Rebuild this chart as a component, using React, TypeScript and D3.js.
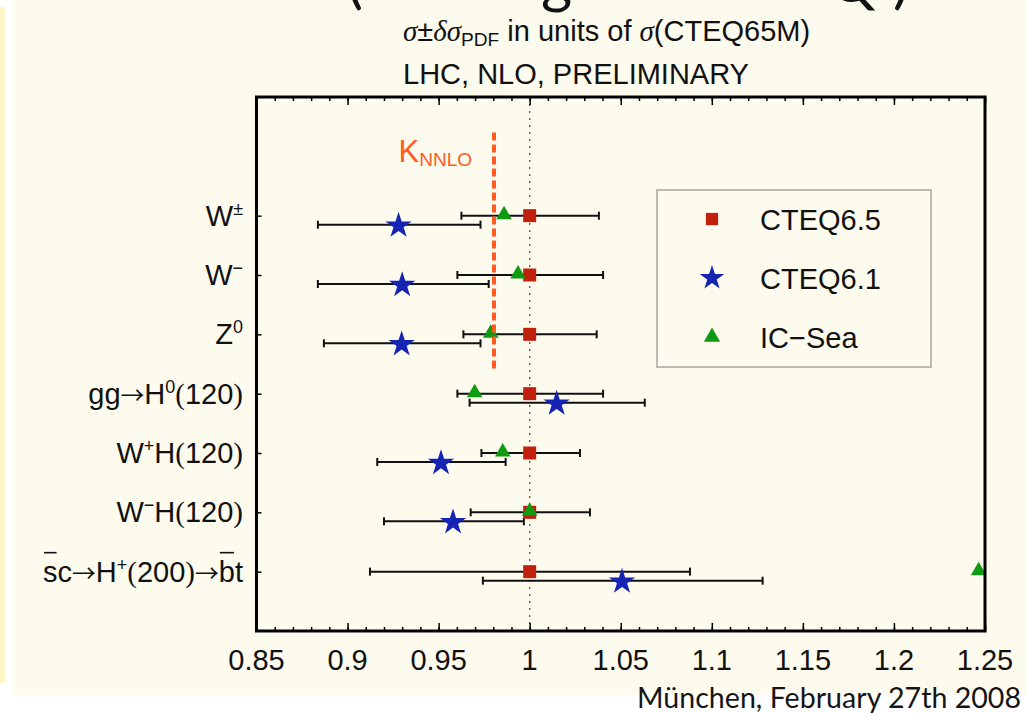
import React, { useEffect, useRef } from "react";
import * as d3 from "d3";

type Seg = { t: string; sup?: boolean; sub?: boolean; serif?: boolean; italic?: boolean; over?: boolean; arrow?: boolean };

// ---- data ----
const categories = ["W±", "W−", "Z0", "gg→H0(120)", "W+H(120)", "W−H(120)", "sc→H+(200)→bt"];
const categoryLabels: Seg[][] = [
  [{ t: "W" }, { t: "±", sup: true }],
  [{ t: "W" }, { t: "−", sup: true }],
  [{ t: "Z" }, { t: "0", sup: true }],
  [{ t: "gg" }, { t: "→", arrow: true }, { t: "H" }, { t: "0", sup: true }, { t: "(", serif: true }, { t: "120" }, { t: ")", serif: true }],
  [{ t: "W" }, { t: "+", sup: true }, { t: "H" }, { t: "(", serif: true }, { t: "120" }, { t: ")", serif: true }],
  [{ t: "W" }, { t: "−", sup: true }, { t: "H" }, { t: "(", serif: true }, { t: "120" }, { t: ")", serif: true }],
  [{ t: "s", over: true }, { t: "c" }, { t: "→", arrow: true }, { t: "H" }, { t: "+", sup: true }, { t: "(", serif: true }, { t: "200" }, { t: ")", serif: true }, { t: "→", arrow: true }, { t: "b", over: true }, { t: "t" }],
];

const cteq65 = [1, 1, 1, 1, 1, 1, 1];
const cteq65Lo = [0.9625, 0.9603, 0.9636, 0.9603, 0.9735, 0.9676, 0.9123];
const cteq65Hi = [1.038, 1.0403, 1.0368, 1.0403, 1.0276, 1.0331, 1.088];

const cteq61 = [0.928, 0.93, 0.9297, 1.0148, 0.9513, 0.9579, 1.0507];
const cteq61Lo = [0.8837, 0.8837, 0.887, 0.967, 0.9163, 0.92, 0.9743];
const cteq61Hi = [0.973, 0.9775, 0.973, 1.0632, 0.9868, 0.9968, 1.1279];

const icSea = [0.9859, 0.9936, 0.9786, 0.9698, 0.9852, 1.0, 1.2465];

const kNNLO = 0.9804;
const kNNLORows = [-1.4, 2.6];

const xTicks = [0.85, 0.9, 0.95, 1, 1.05, 1.1, 1.15, 1.2, 1.25];
const xTickLabels = ["0.85", "0.9", "0.95", "1", "1.05", "1.1", "1.15", "1.2", "1.25"];
const xMinorTicks = d3.range(85, 126).map((v) => v / 100);

const seriesNames = ["CTEQ6.5", "CTEQ6.1", "IC−Sea"];

// ---- style ----
const BG = "#fdfaee";
const RED = "#c0200c";
const BLUE = "#1624b4";
const GREEN = "#0f9a12";
const ORANGE = "#ff5a1f";
const SANS = "'Liberation Sans', Arial, sans-serif";
const SERIF = "'Liberation Serif', 'Times New Roman', serif";
const ARROWFONT = "'Noto Sans CJK JP', 'Liberation Serif', serif";

function addSegs(text: any, segs: Seg[], size: number) {
  segs.forEach((s) => {
    const ts = text.append("tspan").text(s.t);
    if (s.serif) ts.attr("font-family", SERIF);
    if (s.arrow) ts.attr("font-family", ARROWFONT).attr("font-size", size * 0.82);
    if (s.italic) ts.attr("font-style", "italic");
    if (s.sup) ts.attr("font-size", size * 0.62).attr("baseline-shift", size * 0.38);
    if (s.sub) ts.attr("font-size", size * 0.66).attr("baseline-shift", -size * 0.18);
  });
}

export default function App() {
  const ref = useRef<SVGSVGElement>(null);

  useEffect(() => {
    const svg = d3.select(ref.current!);
    svg.selectAll("*").remove();

    // slide background
    svg.append("rect").attr("width", 1027).attr("height", 713).attr("fill", "#ffffff");
    svg.append("rect").attr("x", 13).attr("y", 0).attr("width", 1014).attr("height", 695).attr("fill", BG);
    svg.append("rect").attr("x", 0).attr("y", 7).attr("width", 5).attr("height", 676).attr("fill", "#fdf5c6");

    // clipped slide title (only the lower parts visible in the source)
    const topG = svg.append("g").attr("font-family", "Lato, sans-serif").attr("font-size", 60).attr("fill", "#111");
    [["(", 347], ["g", 541], ["Q", 828], [")", 893]].forEach(([c, x]) => {
      topG.append("text").attr("x", x as number).attr("y", 2).text(c as string);
    });

    // titles
    const t1 = svg.append("text").attr("x", 403).attr("y", 41).attr("font-family", SANS).attr("font-size", 29).attr("fill", "#111");
    addSegs(t1, [
      { t: "σ", serif: true, italic: true },
      { t: "±" },
      { t: "δσ", serif: true, italic: true },
      { t: "PDF", sub: true },
      { t: " in units of " },
      { t: "σ", serif: true, italic: true },
      { t: "(CTEQ65M)" },
    ], 29);
    svg.append("text").attr("x", 403).attr("y", 84).attr("font-family", SANS).attr("font-size", 29).attr("fill", "#111").text("LHC, NLO, PRELIMINARY");

    // scales
    const x = d3.scaleLinear().domain([0.85, 1.25]).range([256.5, 985]);
    const y = d3.scaleLinear().domain([-2, 7]).range([97, 631]);
    const rows = categories.map((_, i) => i);
    const starOff = 9;

    // dotted reference line at 1
    svg.append("line").attr("x1", x(1)).attr("x2", x(1)).attr("y1", y(-2)).attr("y2", y(7))
      .attr("stroke", "#555").attr("stroke-width", 1.3).attr("stroke-dasharray", "2,5");

    // axes ticks
    const tickStyle = (g: any) => {
      g.select(".domain").remove();
      g.selectAll("line").attr("stroke", "#000").attr("stroke-width", 1.5);
      g.selectAll("text").remove();
    };
    svg.append("g").attr("transform", `translate(0,${y(7)})`)
      .call(d3.axisBottom(x).tickValues(xMinorTicks).tickSize(-4)).call(tickStyle);
    svg.append("g").attr("transform", `translate(0,${y(7)})`)
      .call(d3.axisBottom(x).tickValues(xTicks).tickSize(-8)).call(tickStyle);
    svg.append("g").attr("transform", `translate(0,${y(-2)})`)
      .call(d3.axisTop(x).tickValues(xMinorTicks).tickSize(-4)).call(tickStyle);
    svg.append("g").attr("transform", `translate(0,${y(-2)})`)
      .call(d3.axisTop(x).tickValues(xTicks).tickSize(-8)).call(tickStyle);
    svg.append("g").attr("transform", `translate(${x(0.85)},0)`)
      .call(d3.axisLeft(y).tickValues(rows).tickSize(-5)).call(tickStyle);

    // x tick labels
    svg.append("g").selectAll("text").data(xTicks).join("text")
      .attr("x", (d) => x(d)).attr("y", 670).attr("text-anchor", "middle")
      .attr("font-family", SANS).attr("font-size", 29).attr("fill", "#111")
      .text((_, i) => xTickLabels[i]);

    // y labels
    const labG = svg.append("g").attr("font-family", SANS).attr("font-size", 29).attr("fill", "#111");
    categoryLabels.forEach((segs, i) => {
      const t = labG.append("text").attr("x", 243).attr("y", y(i) + 10).attr("text-anchor", "end");
      addSegs(t, segs, 29);
      let idx = 0;
      const node = t.node() as SVGTextElement;
      segs.forEach((s) => {
        if (s.over) {
          try {
            const b = node.getExtentOfChar(idx);
            labG.append("line").attr("x1", b.x + 1).attr("x2", b.x + b.width - 1)
              .attr("y1", y(i) - 19).attr("y2", y(i) - 19).attr("stroke", "#111").attr("stroke-width", 1.6);
          } catch (e) {}
        }
        idx += s.t.length;
      });
    });

    // error bars
    const eb = (lo: number[], hi: number[], off: number) => {
      const g = svg.append("g").attr("stroke", "#111").attr("stroke-width", 2);
      rows.forEach((i) => {
        const yy = y(i) + off;
        g.append("line").attr("x1", x(lo[i])).attr("x2", x(hi[i])).attr("y1", yy).attr("y2", yy);
        g.append("line").attr("x1", x(lo[i])).attr("x2", x(lo[i])).attr("y1", yy - 4).attr("y2", yy + 4);
        g.append("line").attr("x1", x(hi[i])).attr("x2", x(hi[i])).attr("y1", yy - 4).attr("y2", yy + 4);
      });
    };
    eb(cteq65Lo, cteq65Hi, 0);
    eb(cteq61Lo, cteq61Hi, starOff);

    const sq = d3.symbol().type(d3.symbolSquare).size(169);
    const star = d3.symbol().type(d3.symbolStar).size(215);
    const tri = d3.symbol().type(d3.symbolTriangle).size(105);

    svg.append("g").selectAll("path").data(rows).join("path")
      .attr("d", sq as any).attr("fill", RED)
      .attr("transform", (i) => `translate(${x(cteq65[i])},${y(i)})`);
    svg.append("g").selectAll("path").data(rows).join("path")
      .attr("d", star as any).attr("fill", BLUE)
      .attr("transform", (i) => `translate(${x(cteq61[i])},${y(i) + starOff + 1})`);
    svg.append("g").selectAll("path").data(rows).join("path")
      .attr("d", tri as any).attr("fill", GREEN)
      .attr("transform", (i) => `translate(${x(icSea[i])},${y(i) - 1})`);

    // K_NNLO line
    svg.append("line").attr("x1", x(kNNLO)).attr("x2", x(kNNLO))
      .attr("y1", y(kNNLORows[0])).attr("y2", y(kNNLORows[1]))
      .attr("stroke", ORANGE).attr("stroke-width", 4).attr("stroke-dasharray", "8,4");
    const kt = svg.append("text").attr("x", x(kNNLO) - 22).attr("y", y(-0.9)).attr("text-anchor", "end")
      .attr("font-family", SANS).attr("font-size", 31).attr("fill", ORANGE);
    kt.append("tspan").text("K");
    kt.append("tspan").attr("font-size", 19).attr("baseline-shift", -4).text("NNLO");

    // frame
    svg.append("rect").attr("x", x(0.85)).attr("y", y(-2)).attr("width", x(1.25) - x(0.85)).attr("height", y(7) - y(-2))
      .attr("fill", "none").attr("stroke", "#000").attr("stroke-width", 3);

    // legend
    const lg = svg.append("g");
    lg.append("rect").attr("x", 657).attr("y", 190).attr("width", 274).attr("height", 177)
      .attr("fill", BG).attr("stroke", "#bdbab2").attr("stroke-width", 2);
    const legSyms = [
      d3.symbol().type(d3.symbolSquare).size(150)(),
      d3.symbol().type(d3.symbolStar).size(190)(),
      d3.symbol().type(d3.symbolTriangle).size(115)(),
    ];
    const legCols = [RED, BLUE, GREEN];
    seriesNames.forEach((n, i) => {
      const yy = 219 + i * 59;
      lg.append("path").attr("d", legSyms[i] as string).attr("fill", legCols[i]).attr("transform", `translate(712,${yy})`);
      lg.append("text").attr("x", 760).attr("y", yy + 11).attr("font-family", SANS).attr("font-size", 29).attr("fill", "#111").text(n);
    });

    // footer
    svg.append("text").attr("x", 1021).attr("y", 708).attr("text-anchor", "end")
      .attr("font-family", "Lato, sans-serif").attr("font-size", 29).attr("fill", "#151515")
      .attr("textLength", 384).attr("lengthAdjust", "spacingAndGlyphs")
      .text("München, February 27th 2008");
  }, []);

  return (
    <svg ref={ref} width={1027} height={713} style={{ position: "absolute", left: 0, top: 0, display: "block" }} />
  );
}
